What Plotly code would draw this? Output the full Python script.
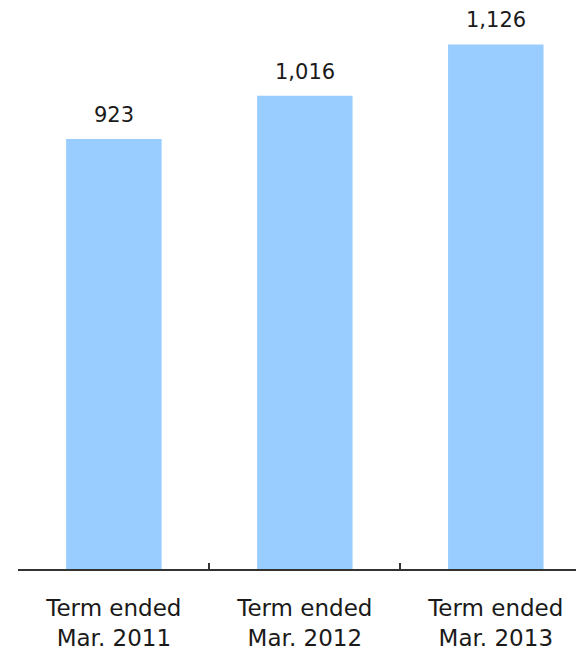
import plotly.graph_objects as go

# Net sales by fiscal term
categories = ["Term ended<br>Mar. 2011", "Term ended<br>Mar. 2012", "Term ended<br>Mar. 2013"]
values = [923, 1016, 1126]
value_labels = ["923", "1,016", "1,126"]

FONT = "DejaVu Sans"
TEXT_COLOR = "#1a1a1a"
AXIS_COLOR = "#333333"

fig = go.Figure(
    go.Bar(
        x=categories,
        y=values,
        width=0.5,
        marker=dict(color="#99ccff", line=dict(width=0)),
        hoverinfo="skip",
    )
)

# value labels above each bar
for cat, val, lab in zip(categories, values, value_labels):
    fig.add_annotation(
        x=cat,
        y=val,
        xref="x",
        yref="y",
        text=lab,
        showarrow=False,
        yanchor="bottom",
        yshift=10,
        font=dict(family=FONT, size=21, color=TEXT_COLOR),
    )

fig.update_layout(
    width=576,
    height=652,
    margin=dict(l=18, r=0, t=10, b=83),
    paper_bgcolor="white",
    plot_bgcolor="white",
    showlegend=False,
    font=dict(family=FONT, size=23, color=TEXT_COLOR),
)

fig.update_xaxes(
    type="category",
    range=[-0.502, 2.42],
    tickson="boundaries",
    ticks="inside",
    ticklen=6,
    tickcolor=AXIS_COLOR,
    tickwidth=1.5,
    showline=True,
    linecolor=AXIS_COLOR,
    linewidth=1.5,
    showgrid=False,
    tickfont=dict(family=FONT, size=23, color=TEXT_COLOR),
    ticklabelstandoff=18,
)

fig.update_yaxes(
    range=[0, 1200],
    visible=False,
    showgrid=False,
    zeroline=False,
)

fig.write_html("out.html")
